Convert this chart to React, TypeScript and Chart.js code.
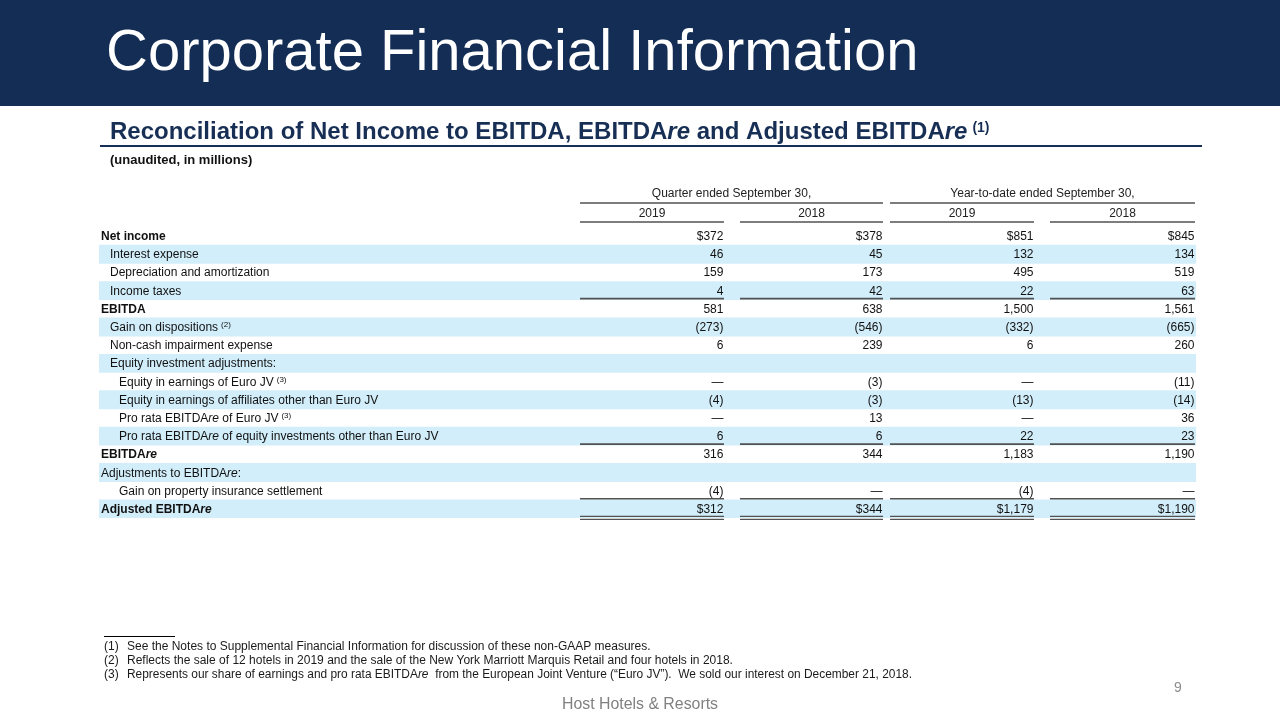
import React, { useEffect, useRef } from 'react';
import { Chart, registerables } from 'chart.js';

Chart.register(...registerables);

// ---------------- DATA ----------------
const rowLabels = [
  'Net income',
  'Interest expense',
  'Depreciation and amortization',
  'Income taxes',
  'EBITDA',
  'Gain on dispositions',
  'Non-cash impairment expense',
  'Equity investment adjustments:',
  'Equity in earnings of Euro JV',
  'Equity in earnings of affiliates other than Euro JV',
  'Pro rata EBITDAre of Euro JV',
  'Pro rata EBITDAre of equity investments other than Euro JV',
  'EBITDAre',
  'Adjustments to EBITDAre:',
  'Gain on property insurance settlement',
  'Adjusted EBITDAre',
];
const rowNotes = ['', '', '', '', '', '(2)', '', '', '(3)', '', '(3)', '', '', '', '', ''];

const quarter2019 = [372, 46, 159, 4, 581, -273, 6, null, 0, -4, 0, 6, 316, null, -4, 312];
const quarter2018 = [378, 45, 173, 42, 638, -546, 239, null, -3, -3, 13, 6, 344, null, 0, 344];
const ytd2019 = [851, 132, 495, 22, 1500, -332, 6, null, 0, -13, 0, 22, 1183, null, -4, 1179];
const ytd2018 = [845, 134, 519, 63, 1561, -665, 260, null, -11, -14, 36, 23, 1190, null, 0, 1190];

const periodHeaders = ['Quarter ended September 30,', 'Year-to-date ended September 30,'];
const yearHeaders = ['2019', '2018', '2019', '2018'];

const pageTitle = 'Corporate Financial Information';
const tableTitle = 'Reconciliation of Net Income to EBITDA, EBITDAre and Adjusted EBITDAre';
const tableTitleNote = '(1)';
const unitsNote = '(unaudited, in millions)';
const footnoteMarks = ['(1)', '(2)', '(3)'];
const footnotes = [
  'See the Notes to Supplemental Financial Information for discussion of these non-GAAP measures.',
  'Reflects the sale of 12 hotels in 2019 and the sale of the New York Marriott Marquis Retail and four hotels in 2018.',
  'Represents our share of earnings and pro rata EBITDAre  from the European Joint Venture (\u201CEuro JV\u201D).  We sold our interest on December 21, 2018.',
];
const pageNumber = '9';
const companyName = 'Host Hotels & Resorts';

// ---------------- STYLE / LAYOUT ----------------
const W = 1280;
const H = 720;
const FONT = '"Liberation Sans", Arial, sans-serif';
const NAVY = '#132D55';
const TITLE_NAVY = '#172F55';
const SHADE = '#D2EEFA';
const RULE = '#525252';
const TEXT = '#111111';

const dollarRows = [0, 15];
const boldRows = [0, 4, 12, 15];
const rowIndent = [0, 1, 1, 1, 0, 1, 1, 1, 2, 2, 2, 2, 0, 0, 2, 0];
const singleRuleRows = [3, 11, 14];
const doubleRuleRows = [15];
// column extents in x-axis units (0..100 across the table)
const colLeft = [43.85, 58.43, 72.11, 86.69];
const colRight = [56.97, 71.47, 85.23, 99.91];
const footnoteWidths = [528, 608, 785];

type Part = { t: string; font: string; dy?: number };

function measureParts(ctx: CanvasRenderingContext2D, parts: Part[]) {
  let w = 0;
  for (const p of parts) {
    ctx.font = p.font;
    w += ctx.measureText(p.t).width;
  }
  return w;
}

function drawParts(ctx: CanvasRenderingContext2D, parts: Part[], x: number, y: number) {
  ctx.textAlign = 'left';
  let cx = x;
  for (const p of parts) {
    ctx.font = p.font;
    ctx.fillText(p.t, cx, y + (p.dy || 0));
    cx += ctx.measureText(p.t).width;
  }
  return cx - x;
}

function reParts(text: string, font: string, italicFont: string): Part[] {
  const segs = text.split('EBITDAre');
  const out: Part[] = [];
  segs.forEach((s, i) => {
    if (i > 0) {
      out.push({ t: 'EBITDA', font });
      out.push({ t: 're', font: italicFont });
    }
    if (s) out.push({ t: s, font });
  });
  return out;
}

function fmt(v: number | null, dollar: boolean) {
  if (v === null || v === undefined) return '';
  if (v === 0) return '\u2014';
  const s = Math.abs(v).toLocaleString('en-US');
  const d = dollar ? '$' + s : s;
  return v < 0 ? '(' + d + ')' : d;
}

const tablePlugin = {
  id: 'tableSlide',
  beforeDraw(chart: any) {
    const ctx: CanvasRenderingContext2D = chart.ctx;
    ctx.save();
    ctx.fillStyle = '#ffffff';
    ctx.fillRect(0, 0, W, H);
    // banner
    ctx.fillStyle = NAVY;
    ctx.fillRect(0, 0, W, 106);
    ctx.fillStyle = '#ffffff';
    ctx.font = `58px ${FONT}`;
    ctx.textAlign = 'left';
    ctx.textBaseline = 'alphabetic';
    ctx.fillText(pageTitle, 106, 70);

    // table title
    ctx.fillStyle = TITLE_NAVY;
    const tParts = reParts(tableTitle, `bold 24px ${FONT}`, `italic bold 24px ${FONT}`);
    const tw = drawParts(ctx, tParts, 110, 139);
    ctx.font = `bold 14px ${FONT}`;
    ctx.fillText(tableTitleNote, 110 + tw + 5, 132);
    ctx.strokeStyle = TITLE_NAVY;
    ctx.lineWidth = 2;
    ctx.beginPath();
    ctx.moveTo(100, 146);
    ctx.lineTo(1202, 146);
    ctx.stroke();

    ctx.fillStyle = TEXT;
    ctx.font = `bold 13px ${FONT}`;
    ctx.fillText(unitsNote, 110, 164);

    // footnotes
    ctx.strokeStyle = '#000';
    ctx.lineWidth = 1;
    ctx.beginPath();
    ctx.moveTo(104, 636.5);
    ctx.lineTo(175, 636.5);
    ctx.stroke();
    footnotes.forEach((note, i) => {
      const by = 650 + i * 14;
      ctx.fillStyle = '#1a1a1a';
      ctx.font = `12px ${FONT}`;
      ctx.fillText(footnoteMarks[i], 104, by);
      const parts = reParts(note, `12px ${FONT}`, `italic 12px ${FONT}`);
      const nat = measureParts(ctx, parts);
      const sx = Math.min(1, footnoteWidths[i] / nat);
      ctx.save();
      ctx.translate(127, by);
      ctx.scale(sx, 1);
      drawParts(ctx, parts, 0, 0);
      ctx.restore();
    });

    // page footer
    ctx.fillStyle = '#8C8C8C';
    ctx.font = `14px ${FONT}`;
    ctx.fillText(pageNumber, 1174, 692);
    ctx.fillStyle = '#808080';
    ctx.font = `16px ${FONT}`;
    ctx.textAlign = 'center';
    ctx.fillText(companyName, 640, 709, 156);
    ctx.restore();
  },
  afterDatasetsDraw(chart: any) {
    const ctx: CanvasRenderingContext2D = chart.ctx;
    const xs = chart.scales.x;
    const ys = chart.scales.y;
    const area = chart.chartArea;
    const cols = [quarter2019, quarter2018, ytd2019, ytd2018];
    ctx.save();
    ctx.textBaseline = 'alphabetic';

    // header
    const top = area.top;
    ctx.fillStyle = '#222';
    ctx.font = `12px ${FONT}`;
    ctx.textAlign = 'center';
    ctx.strokeStyle = RULE;
    ctx.lineWidth = 1.6;
    periodHeaders.forEach((h, k) => {
      const l = xs.getPixelForValue(colLeft[k * 2]);
      const r = xs.getPixelForValue(colRight[k * 2 + 1]);
      ctx.fillText(h, (l + r) / 2, top - 30);
      ctx.beginPath();
      ctx.moveTo(l, top - 24);
      ctx.lineTo(r, top - 24);
      ctx.stroke();
    });
    yearHeaders.forEach((h, c) => {
      const l = xs.getPixelForValue(colLeft[c]);
      const r = xs.getPixelForValue(colRight[c]);
      ctx.fillText(h, (l + r) / 2, top - 10);
      ctx.beginPath();
      ctx.moveTo(l, top - 5);
      ctx.lineTo(r, top - 5);
      ctx.stroke();
    });

    const x0 = xs.getPixelForValue(0);
    rowLabels.forEach((label, i) => {
      const cy = ys.getPixelForValue(i);
      const base = cy + 4;
      const bold = boldRows.includes(i);
      const f = bold ? `bold 12px ${FONT}` : `12px ${FONT}`;
      const fi = bold ? `italic bold 12px ${FONT}` : `italic 12px ${FONT}`;
      ctx.fillStyle = TEXT;
      const lx = x0 + 2 + rowIndent[i] * 9;
      const w = drawParts(ctx, reParts(label, f, fi), lx, base);
      if (rowNotes[i]) {
        ctx.font = `8px ${FONT}`;
        ctx.fillText(rowNotes[i], lx + w + 3, base - 4);
      }
      // values
      ctx.font = `12px ${FONT}`;
      ctx.textAlign = 'right';
      cols.forEach((col, c) => {
        const v = col[i];
        if (v === null) return;
        ctx.fillText(fmt(v, dollarRows.includes(i)), xs.getPixelForValue(colRight[c]) - 0.5, base);
      });
      ctx.textAlign = 'left';
      // rules
      ctx.strokeStyle = RULE;
      if (singleRuleRows.includes(i)) {
        ctx.lineWidth = 1.6;
        cols.forEach((_, c) => {
          ctx.beginPath();
          ctx.moveTo(xs.getPixelForValue(colLeft[c]), cy + 8);
          ctx.lineTo(xs.getPixelForValue(colRight[c]), cy + 8);
          ctx.stroke();
        });
      }
      if (doubleRuleRows.includes(i)) {
        ctx.lineWidth = 1.3;
        cols.forEach((_, c) => {
          [7.5, 10.5].forEach((off) => {
            ctx.beginPath();
            ctx.moveTo(xs.getPixelForValue(colLeft[c]), cy + off);
            ctx.lineTo(xs.getPixelForValue(colRight[c]), cy + off);
            ctx.stroke();
          });
        });
      }
    });
    ctx.restore();
  },
};

export default function App() {
  const canvasRef = useRef<HTMLCanvasElement | null>(null);

  useEffect(() => {
    if (!canvasRef.current) return;
    const shading = rowLabels.map((_, i) => (i % 2 === 1 ? [0, 100] : null));
    const chart = new Chart(canvasRef.current, {
      type: 'bar',
      data: {
        labels: rowLabels,
        datasets: [
          {
            label: 'row shading',
            data: shading as any,
            backgroundColor: SHADE,
            borderWidth: 0,
            categoryPercentage: 1,
            barPercentage: 1,
          },
        ],
      },
      options: {
        indexAxis: 'y',
        animation: false,
        responsive: false,
        events: [],
        layout: { padding: { left: 99, right: 84, top: 227, bottom: 202 } },
        scales: {
          x: { type: 'linear', min: 0, max: 100, display: false },
          y: { type: 'category', display: false, offset: true },
        },
        plugins: {
          legend: { display: false },
          tooltip: { enabled: false },
        },
      },
      plugins: [tablePlugin],
    } as any);
    return () => chart.destroy();
  }, []);

  return (
    <div style={{ position: 'fixed', left: 0, top: 0, width: W, height: H, background: '#fff' }}>
      <canvas ref={canvasRef} width={W} height={H} style={{ display: 'block', width: W, height: H }} />
    </div>
  );
}
